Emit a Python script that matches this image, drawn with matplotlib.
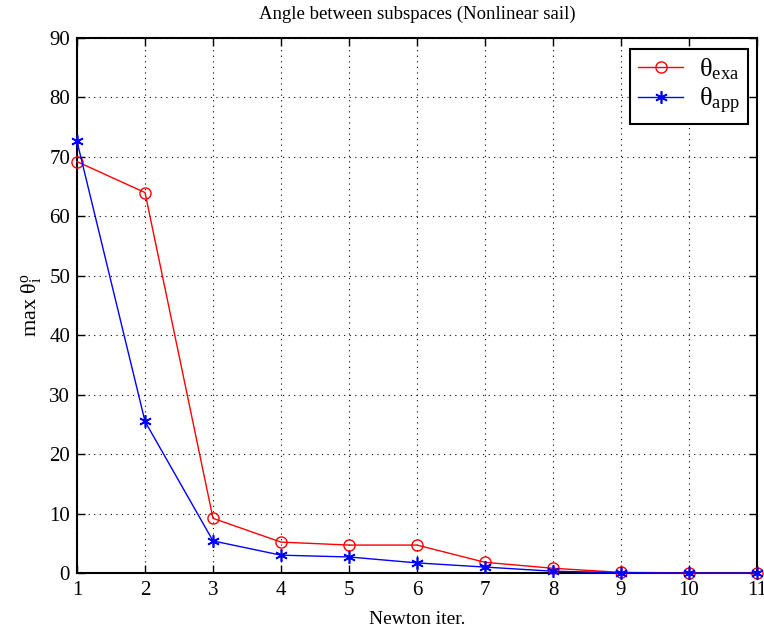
import matplotlib
matplotlib.use("Agg")
import matplotlib.pyplot as plt

iters = [1, 2, 3, 4, 5, 6, 7, 8, 9, 10, 11]
theta_exa = [69.2, 64.0, 9.2, 5.2, 4.7, 4.7, 1.8, 0.8, 0.1, 0.02, 0.0]
theta_app = [72.6, 25.5, 5.4, 3.0, 2.7, 1.7, 1.0, 0.3, 0.05, 0.0, 0.0]
xticks = list(range(1, 12))
yticks = list(range(0, 91, 10))

plt.rcParams['font.family'] = ['Liberation Serif', 'DejaVu Serif']
plt.rcParams['mathtext.fontset'] = 'custom'
plt.rcParams['mathtext.rm'] = 'Liberation Serif'
plt.rcParams['mathtext.it'] = 'Liberation Serif'

fig = plt.figure(figsize=(7.64, 6.31), dpi=100)
ax = fig.add_axes([0.1008, 0.0919, 0.89, 0.8479])

ax.plot(iters, theta_exa, color='red', marker='o', markerfacecolor='none',
        markersize=8, linewidth=1.0, clip_on=False, zorder=3,
        label=r'$\mathrm{\theta}_{\mathrm{exa}}$')
ax.plot(iters, theta_app, color='blue', marker=(6, 2, 0), markersize=9,
        markeredgewidth=1.2, linewidth=1.0, clip_on=False, zorder=4,
        label=r'$\mathrm{\theta}_{\mathrm{app}}$')

ax.set_xlim(1, 11)
ax.set_ylim(0, 90)
ax.set_xticks(xticks)
ax.set_yticks(yticks)
ax.tick_params(direction='in', top=True, right=True, labelsize=15,
               length=6, width=1)
ax.tick_params(axis='x', pad=6)
ax.tick_params(axis='y', pad=5)
ax.grid(True, linestyle=(0, (1, 4)), color='black', linewidth=0.8)
for s in ax.spines.values():
    s.set_linewidth(1.5)

ax.set_title('Angle between subspaces (Nonlinear sail)', fontsize=13.5, pad=14)
ax.set_xlabel('Newton iter.', fontsize=14, labelpad=8)
ax.set_ylabel(r'max $\mathrm{\theta}_{\mathrm{i}}^{\mathrm{o}}$', fontsize=16, labelpad=3)

leg = ax.legend(loc='upper right', fontsize=19, fancybox=False, framealpha=1,
                edgecolor='black', handlelength=1.7, borderaxespad=0.3,
                bbox_to_anchor=(0.998, 0.995), borderpad=0.3, labelspacing=0.15,
                handletextpad=0.6)
leg.get_frame().set_linewidth(1.5)

fig.savefig('out.png', dpi=100)
